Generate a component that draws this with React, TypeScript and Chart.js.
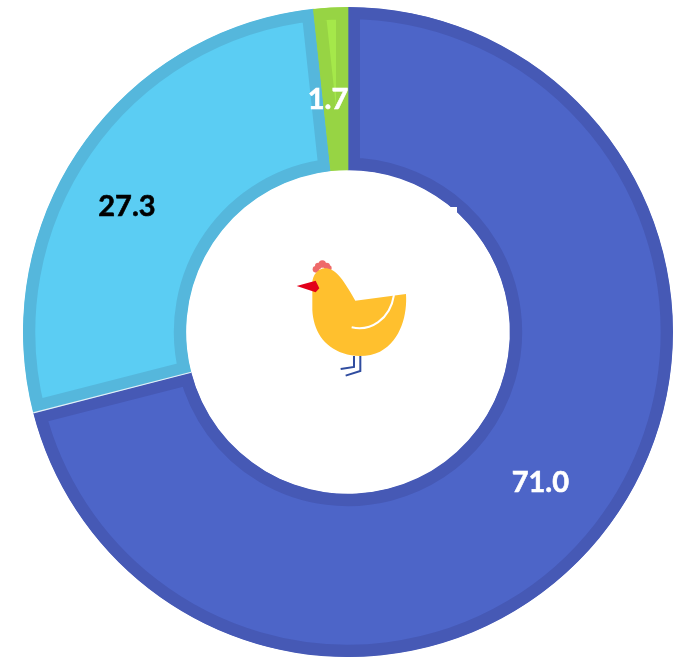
import React, { useEffect, useRef } from "react";
import { Chart, registerables } from "chart.js";

Chart.register(...registerables);

const categories = ["A", "B", "C"];
const values = [71.0, 27.3, 1.7];
const valueLabels = ["71.0", "27.3", "1.7"];
const fillColors = ["#4D65C8", "#5BCDF3", "#A5E84A"];
const edgeColors = ["#4659B5", "#55B7DC", "#97D444"];
const labelColors = ["#FFFFFF", "#000000", "#FFFFFF"];
const labelShift = [[0, 1], [-21, 13], [-7, 11]];

const labelPlugin = {
  id: "sliceLabels",
  afterDatasetsDraw(chart: any) {
    const { ctx } = chart;
    const arcs = chart.getDatasetMeta(0).data;
    // thin pale seam between the dark-blue and light-blue slices
    const a = arcs[0];
    ctx.save();
    ctx.strokeStyle = "#E4F0F8";
    ctx.lineWidth = 1.2;
    ctx.beginPath();
    ctx.moveTo(a.x + a.innerRadius * Math.cos(a.endAngle), a.y + a.innerRadius * Math.sin(a.endAngle));
    ctx.lineTo(a.x + a.outerRadius * Math.cos(a.endAngle), a.y + a.outerRadius * Math.sin(a.endAngle));
    ctx.stroke();
    ctx.restore();

    ctx.save();
    ctx.font = "bold 29px Lato";
    ctx.textAlign = "center";
    ctx.textBaseline = "middle";
    arcs.forEach((arc: any, i: number) => {
      const p = arc.getCenterPoint();
      ctx.fillStyle = labelColors[i];
      ctx.lineWidth = 0.6;
      ctx.strokeStyle = labelColors[i];
      const x = p.x + labelShift[i][0];
      const y = p.y + labelShift[i][1];
      ctx.strokeText(valueLabels[i], x, y);
      ctx.fillText(valueLabels[i], x, y);
    });
    ctx.restore();
  },
};

function Hen() {
  return (
    <svg
      width={679}
      height={664}
      style={{ position: "absolute", left: 0, top: 0, pointerEvents: "none" }}
    >
      <rect x={442} y={207} width={15} height={10} fill="#FFFFFF" />
      <g transform="translate(280 240) scale(0.3333)">
        <g fill="#EE6A6A">
          <circle cx={108} cy={88} r={10} />
          <circle cx={115} cy={78} r={10} />
          <circle cx={127} cy={72} r={11} />
          <circle cx={140} cy={78} r={10} />
          <circle cx={147} cy={84} r={8} />
        </g>
        <path
          d="M97 130 C97 105 115 85 135 85 C165 85 185 110 226 182 L378 162 C382 220 365 300 300 335 C270 350 225 352 190 340 C130 320 100 270 97 210 Z"
          fill="#FFC02E"
        />
        <path d="M50 138 L107 122 L118 145 L107 157 Z" fill="#E2001A" />
        <path d="M215 262 C270 275 330 240 342 165" fill="none" stroke="#FFFFFF" strokeWidth={6} />
        <g fill="none" stroke="#2F4C9F" strokeWidth={6}>
          <path d="M222 348 L222 381 L182 387" />
          <path d="M241 348 L241 393 L197 407" />
        </g>
      </g>
    </svg>
  );
}

export default function App() {
  const ref = useRef<HTMLCanvasElement>(null);
  useEffect(() => {
    const chart = new Chart(ref.current!, {
      type: "doughnut",
      data: {
        labels: categories,
        datasets: [
          {
            data: values,
            backgroundColor: fillColors,
            borderColor: edgeColors,
            borderWidth: 12,
            borderAlign: "inner",
            borderJoinStyle: "miter",
          } as any,
        ],
      },
      options: {
        responsive: false,
        animation: false,
        cutout: "49.8%",
        layout: { padding: { left: 23, right: 6, top: 7, bottom: 7 } },
        plugins: { legend: { display: false }, tooltip: { enabled: false } },
      },
      plugins: [labelPlugin],
    });
    return () => chart.destroy();
  }, []);
  return (
    <div style={{ position: "absolute", left: 0, top: 0, width: 679, height: 664, background: "#FFFFFF" }}>
      <canvas ref={ref} width={679} height={664} style={{ display: "block" }} />
      <Hen />
    </div>
  );
}
